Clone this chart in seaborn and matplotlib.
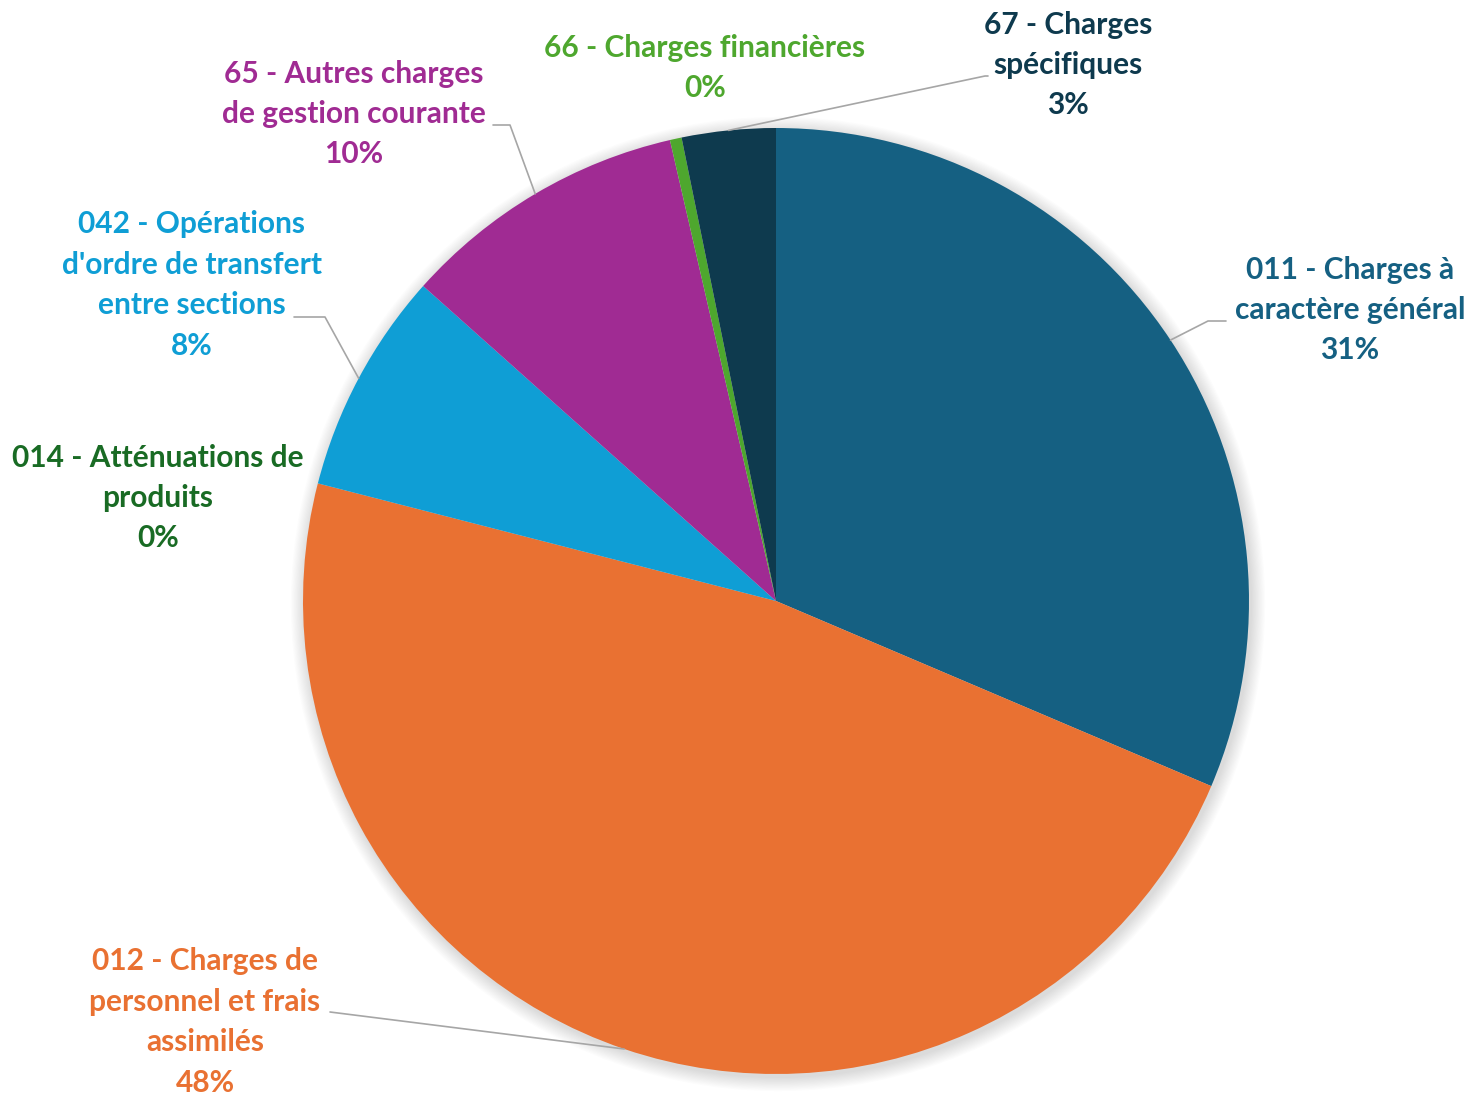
import numpy as np
import matplotlib
matplotlib.use("Agg")
import matplotlib.pyplot as plt
import seaborn as sns

# chart data
chapters = ["011", "012", "014", "042", "65", "66", "67"]
labels = [
    "011 - Charges à\ncaractère général",
    "012 - Charges de\npersonnel et frais\nassimilés",
    "014 - Atténuations de\nproduits",
    "042 - Opérations\nd'ordre de transfert\nentre sections",
    "65 - Autres charges\nde gestion courante",
    "66 - Charges financières",
    "67 - Charges\nspécifiques",
]
shares = [31.4, 47.6, 0.0, 7.6, 9.8, 0.4, 3.2]
pct_text = ["31%", "48%", "0%", "8%", "10%", "0%", "3%"]
colors = ["#156082", "#E97132", "#196B24", "#0F9ED5", "#A02B93", "#4EA72E", "#0E3A4E"]

W, H = 1478, 1094
CX, CY, R = 776, 601, 473


def px(x, y):
    # pixel position (from top-left) -> data coords
    return x, H - y


sns.set_theme(style="white")
plt.rcParams["font.family"] = ["Lato", "DejaVu Sans"]

fig = plt.figure(figsize=(W / 100, H / 100), dpi=100)
ax = fig.add_axes([0, 0, 1, 1])
ax.set_xlim(0, W)
ax.set_ylim(0, H)
ax.set_aspect("equal")
ax.axis("off")

# soft shadow behind the pie
for i in range(12):
    c = plt.Circle(px(CX + 2, CY + 3), R + 1 + i * 1.2, color="black",
                   alpha=0.012, lw=0, zorder=0)
    ax.add_patch(c)

palette = sns.color_palette(colors)
wedges, _ = ax.pie(shares, colors=palette, startangle=90, counterclock=False,
                   radius=R, center=px(CX, CY), frame=True,
                   wedgeprops=dict(linewidth=0))
ax.set_xlim(0, W)
ax.set_ylim(0, H)
ax.axis("off")

# label placements: text centre, elbow point, line end near text
layout = {
    "011": dict(text=(1350, 310), elbow=[(1208, 321), (1226, 321)]),
    "012": dict(text=(205, 1022), elbow=[(330, 1012)]),
    "014": dict(text=(158, 498), elbow=None),
    "042": dict(text=(192, 285), elbow=[(325, 317), (294, 317)]),
    "65": dict(text=(354, 114), elbow=[(510, 125), (493, 125)]),
    "66": dict(text=(705, 68), elbow=None),
    "67": dict(text=(1068, 65), elbow=[(985, 76), (988, 76)]),
}

for w, ch, lab, pct, col in zip(wedges, chapters, labels, pct_text, colors):
    conf = layout[ch]
    tx, ty = px(*conf["text"])
    ax.text(tx, ty, f"{lab}\n{pct}", ha="center", va="center",
            multialignment="center", fontsize=21.5, fontweight="bold",
            color=col, linespacing=1.54, zorder=5)
    if conf["elbow"]:
        mid = np.deg2rad((w.theta1 + w.theta2) / 2)
        ex, ey = CX + R * np.cos(mid), CY - R * np.sin(mid)
        pts = [(ex, ey)] + conf["elbow"]
        xs = [p[0] for p in pts]
        ys = [H - p[1] for p in pts]
        ax.plot(xs, ys, color="#A6A6A6", lw=1.2, zorder=4)

fig.savefig("out.png", dpi=100, facecolor="white")
